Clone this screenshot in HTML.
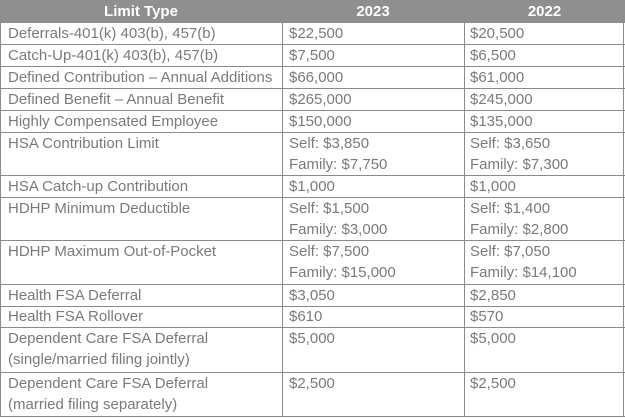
<!DOCTYPE html>
<html><head><style>
body{margin:0;width:625px;height:418px;background:#fff;position:relative;overflow:hidden;font-family:"Liberation Sans",Arial,sans-serif;font-size:15px;color:#7a7a7a;}
.h{position:absolute;left:0;top:0;width:625px;height:23px;background:#8f8f8f;}
.ht{position:absolute;top:3px;color:#fff;font-weight:bold;font-size:15px;text-align:center;}
.hl{position:absolute;left:0;width:625px;height:1px;background:#8a8a8a;}
.vl{position:absolute;top:23px;width:1px;height:394px;background:#8a8a8a;}
.t{position:absolute;line-height:21px;white-space:nowrap;}
</style></head><body>
<div class="h"></div>
<div class="ht" style="left:0;width:282px">Limit Type</div>
<div class="ht" style="left:282px;width:182px">2023</div>
<div class="ht" style="left:464px;width:161px">2022</div>
<div class="hl" style="top:44px"></div>
<div class="hl" style="top:66px"></div>
<div class="hl" style="top:88px"></div>
<div class="hl" style="top:110px"></div>
<div class="hl" style="top:132px"></div>
<div class="hl" style="top:175px"></div>
<div class="hl" style="top:197px"></div>
<div class="hl" style="top:240px"></div>
<div class="hl" style="top:284px"></div>
<div class="hl" style="top:306px"></div>
<div class="hl" style="top:327px"></div>
<div class="hl" style="top:372px"></div>
<div class="hl" style="top:416px"></div>
<div class="vl" style="left:0"></div>
<div class="vl" style="left:282px"></div>
<div class="vl" style="left:464px"></div>
<div class="vl" style="left:623px"></div>

<div class="t" style="left:8px;top:23px">Deferrals-401(k) 403(b), 457(b)</div>
<div class="t" style="left:289px;top:23px">$22,500</div>
<div class="t" style="left:470px;top:23px">$20,500</div>

<div class="t" style="left:8px;top:45px">Catch-Up-401(k) 403(b), 457(b)</div>
<div class="t" style="left:289px;top:45px">$7,500</div>
<div class="t" style="left:470px;top:45px">$6,500</div>

<div class="t" style="left:8px;top:67px">Defined Contribution – Annual Additions</div>
<div class="t" style="left:289px;top:67px">$66,000</div>
<div class="t" style="left:470px;top:67px">$61,000</div>

<div class="t" style="left:8px;top:89px">Defined Benefit – Annual Benefit</div>
<div class="t" style="left:289px;top:89px">$265,000</div>
<div class="t" style="left:470px;top:89px">$245,000</div>

<div class="t" style="left:8px;top:111px">Highly Compensated Employee</div>
<div class="t" style="left:289px;top:111px">$150,000</div>
<div class="t" style="left:470px;top:111px">$135,000</div>

<div class="t" style="left:8px;top:133px">HSA Contribution Limit</div>
<div class="t" style="left:289px;top:133px">Self: $3,850<br>Family: $7,750</div>
<div class="t" style="left:470px;top:133px">Self: $3,650<br>Family: $7,300</div>

<div class="t" style="left:8px;top:176px">HSA Catch-up Contribution</div>
<div class="t" style="left:289px;top:176px">$1,000</div>
<div class="t" style="left:470px;top:176px">$1,000</div>

<div class="t" style="left:8px;top:198px">HDHP Minimum Deductible</div>
<div class="t" style="left:289px;top:198px">Self: $1,500<br>Family: $3,000</div>
<div class="t" style="left:470px;top:198px">Self: $1,400<br>Family: $2,800</div>

<div class="t" style="left:8px;top:241px">HDHP Maximum Out-of-Pocket</div>
<div class="t" style="left:289px;top:241px">Self: $7,500<br>Family: $15,000</div>
<div class="t" style="left:470px;top:241px">Self: $7,050<br>Family: $14,100</div>

<div class="t" style="left:8px;top:285px">Health FSA Deferral</div>
<div class="t" style="left:289px;top:285px">$3,050</div>
<div class="t" style="left:470px;top:285px">$2,850</div>

<div class="t" style="left:8px;top:306px">Health FSA Rollover</div>
<div class="t" style="left:289px;top:306px">$610</div>
<div class="t" style="left:470px;top:306px">$570</div>

<div class="t" style="left:8px;top:328px">Dependent Care FSA Deferral<br>(single/married filing jointly)</div>
<div class="t" style="left:289px;top:328px">$5,000</div>
<div class="t" style="left:470px;top:328px">$5,000</div>

<div class="t" style="left:8px;top:373px">Dependent Care FSA Deferral<br>(married filing separately)</div>
<div class="t" style="left:289px;top:373px">$2,500</div>
<div class="t" style="left:470px;top:373px">$2,500</div>
</body></html>
